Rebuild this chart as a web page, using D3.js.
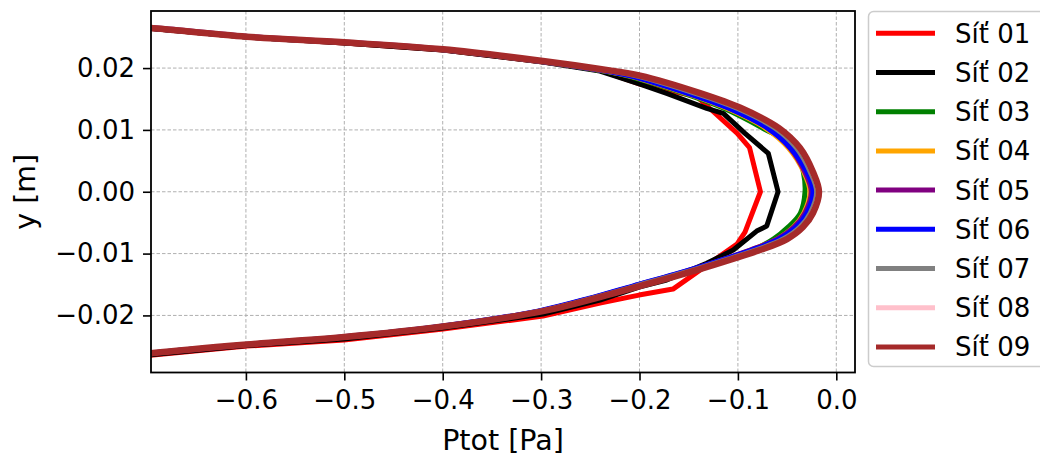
<!DOCTYPE html>
<html>
<head>
<meta charset="utf-8">
<script src="https://cdn.jsdelivr.net/npm/d3@7"></script>
<style>
  html, body { margin: 0; padding: 0; background: #ffffff; }
  svg text { font-family: "DejaVu Sans", sans-serif; fill: #000; }
</style>
</head>
<body>
<svg id="chart" width="1040" height="457"></svg>
<script>
// ---- data: total pressure profiles across the channel for nine meshes ----
const seriesNames = ["Síť 01", "Síť 02", "Síť 03", "Síť 04", "Síť 05", "Síť 06", "Síť 07", "Síť 08", "Síť 09"];
const seriesColors = ["#ff0000", "#000000", "#008000", "#ffa500", "#800080", "#0000ff", "#808080", "#ffc0cb", "#a52a2a"];

// mesh 01 (coarse)
const y01 = [0.0267, 0.02640, 0.02502, 0.02405, 0.02292, 0.02098, 0.01968, 0.01742, 0.01540, 0.00949, 0.00715, 0.0,
             -0.00652, -0.00846, -0.01574, -0.01671, -0.01800, -0.02010, -0.02221, -0.02399, -0.02496, -0.02641, -0.0268];
const p01 = [-0.720, -0.6965, -0.5989, -0.5003, -0.3997, -0.2981, -0.2402, -0.1995, -0.1419, -0.1009, -0.0882, -0.0771,
             -0.0928, -0.1009, -0.1660, -0.2005, -0.2402, -0.2981, -0.3997, -0.5003, -0.5989, -0.6944, -0.720];

// mesh 02
const y02 = [0.0267, 0.02640, 0.02502, 0.02405, 0.02292, 0.02098, 0.01952, 0.01742, 0.01591, 0.01349, 0.01268, 0.00945, 0.00621, 0.0,
             -0.00555, -0.00636, -0.00943, -0.01158, -0.01428, -0.01541, -0.01752, -0.01978, -0.02204, -0.02382, -0.02487, -0.02633, -0.0268];
const p02 = [-0.720, -0.6965, -0.5989, -0.5003, -0.3997, -0.2981, -0.2402, -0.1995, -0.1724, -0.1317, -0.1148, -0.0928, -0.0691, -0.0592,
             -0.0707, -0.0809, -0.1047, -0.1317, -0.1724, -0.2005, -0.2402, -0.2981, -0.3997, -0.5003, -0.5989, -0.6944, -0.720];

// meshes 03-09 share the same sampling positions
const yFine = [0.0267, 0.02648, 0.02507, 0.02416, 0.02303, 0.02114, 0.01985, 0.01879, 0.01596, 0.01354, 0.01030, 0.00707, 0.00319, 0.0,
               -0.00344, -0.00571, -0.00765, -0.00943, -0.01064, -0.01250, -0.01525, -0.01703, -0.01930, -0.02180, -0.02350, -0.02471, -0.02609, -0.0266];
const p03 = [-0.720, -0.6985, -0.6020, -0.5040, -0.4045, -0.3040, -0.2490, -0.2140, -0.1560, -0.1150, -0.0750, -0.0415, -0.0335, -0.0318,
             -0.0365, -0.0490, -0.0640, -0.0850, -0.1060, -0.1425, -0.2030, -0.2435, -0.2995, -0.4000, -0.5000, -0.5990, -0.6940, -0.720];
const p04 = [-0.720, -0.6975, -0.6015, -0.5035, -0.4040, -0.3035, -0.2480, -0.2120, -0.1535, -0.1120, -0.0720, -0.0485, -0.0330, -0.0268,
             -0.0330, -0.0435, -0.0600, -0.0870, -0.1080, -0.1440, -0.2040, -0.2440, -0.3010, -0.4010, -0.5010, -0.5995, -0.6945, -0.720];
const p05 = [-0.720, -0.6900, -0.5930, -0.4960, -0.3985, -0.3005, -0.2460, -0.2095, -0.1505, -0.1090, -0.0695, -0.0470, -0.0320, -0.0255,
             -0.0320, -0.0430, -0.0600, -0.0875, -0.1095, -0.1460, -0.2060, -0.2455, -0.3020, -0.4020, -0.5000, -0.5960, -0.6910, -0.720];
const p06 = [-0.720, -0.6985, -0.6020, -0.5040, -0.4045, -0.3040, -0.2475, -0.2110, -0.1520, -0.1100, -0.0700, -0.0465, -0.0300, -0.0237,
             -0.0300, -0.0410, -0.0580, -0.0860, -0.1090, -0.1465, -0.2070, -0.2465, -0.3035, -0.4040, -0.5035, -0.6010, -0.6955, -0.720];
const p07 = [-0.720, -0.6975, -0.6005, -0.5020, -0.4020, -0.3010, -0.2440, -0.2045, -0.1440, -0.1015, -0.0625, -0.0405, -0.0265, -0.0200,
             -0.0265, -0.0370, -0.0540, -0.0820, -0.1055, -0.1430, -0.2040, -0.2440, -0.3010, -0.4020, -0.5020, -0.6000, -0.6950, -0.720];
const p08 = [-0.720, -0.6965, -0.5990, -0.5000, -0.3995, -0.2985, -0.2405, -0.2000, -0.1390, -0.0973, -0.0588, -0.0374, -0.0242, -0.0181,
             -0.0242, -0.0344, -0.0506, -0.0778, -0.1012, -0.1388, -0.1997, -0.2404, -0.2983, -0.3999, -0.5005, -0.5993, -0.6945, -0.720];
const p09 = [-0.720, -0.6965, -0.5992, -0.5003, -0.3997, -0.2981, -0.2402, -0.1995, -0.1385, -0.0969, -0.0583, -0.0369, -0.0237, -0.0176,
             -0.0237, -0.0339, -0.0501, -0.0775, -0.1009, -0.1385, -0.1995, -0.2402, -0.2981, -0.3997, -0.5003, -0.5992, -0.6944, -0.720];

// axis ticks
const xTicks = [-0.6, -0.5, -0.4, -0.3, -0.2, -0.1, 0.0];
const xTickLabels = ["\u22120.6", "\u22120.5", "\u22120.4", "\u22120.3", "\u22120.2", "\u22120.1", "0.0"];
const yTicks = [0.02, 0.01, 0.0, -0.01, -0.02];
const yTickLabels = ["0.02", "0.01", "0.00", "\u22120.01", "\u22120.02"];
const xDomain = [-0.69645, 0.0190];
const yDomain = [-0.02923, 0.02923];

// ---- assemble series ----
const seriesP = [p01, p02, p03, p04, p05, p06, p07, p08, p09];
const seriesY = [y01, y02, yFine, yFine, yFine, yFine, yFine, yFine, yFine];
const series = seriesNames.map((name, i) => ({
  name,
  color: seriesColors[i],
  fine: i >= 2,
  points: seriesP[i].map((p, k) => [p, seriesY[i][k]])
}));

// ---- layout ----
const plot = { left: 151, right: 855, top: 11, bottom: 372.5 };
const fontSize = 26;
const titleSize = 28.5;

const svg = d3.select("#chart");
const x = d3.scaleLinear().domain(xDomain).range([plot.left, plot.right]);
const y = d3.scaleLinear().domain(yDomain).range([plot.bottom, plot.top]);

svg.append("defs").append("clipPath").attr("id", "plot-clip")
  .append("rect")
  .attr("x", plot.left).attr("y", plot.top)
  .attr("width", plot.right - plot.left).attr("height", plot.bottom - plot.top);

// grid
const grid = svg.append("g").attr("class", "grid");
grid.selectAll("line.gx").data(xTicks).join("line")
  .attr("x1", d => x(d)).attr("x2", d => x(d))
  .attr("y1", plot.top).attr("y2", plot.bottom)
  .attr("stroke", "#b0b0b0").attr("stroke-width", 1).attr("stroke-dasharray", "3.5,2");
grid.selectAll("line.gy").data(yTicks).join("line")
  .attr("x1", plot.left).attr("x2", plot.right)
  .attr("y1", d => y(d)).attr("y2", d => y(d))
  .attr("stroke", "#b0b0b0").attr("stroke-width", 1).attr("stroke-dasharray", "3.5,2");

// profiles: coarse meshes as plain polylines, fine meshes smoothed through their samples
const lineCoarse = d3.line().x(d => x(d[0])).y(d => y(d[1]));
const lineFine = d3.line().x(d => x(d[0])).y(d => y(d[1])).curve(d3.curveCatmullRom.alpha(0.5));
svg.append("g").attr("clip-path", "url(#plot-clip)")
  .selectAll("path").data(series).join("path")
  .attr("d", d => (d.fine ? lineFine : lineCoarse)(d.points))
  .attr("fill", "none")
  .attr("stroke", d => d.color)
  .attr("stroke-width", (d, i) => i === 8 ? 6.5 : 5)
  .attr("stroke-linejoin", "round")
  .attr("stroke-linecap", "butt");

// axes
const xAxis = d3.axisBottom(x).tickValues(xTicks).tickFormat((d, i) => xTickLabels[i])
  .tickSize(8).tickPadding(10);
const yAxis = d3.axisLeft(y).tickValues(yTicks).tickFormat((d, i) => yTickLabels[i])
  .tickSize(8).tickPadding(8);

const gx = svg.append("g").attr("transform", `translate(0,${plot.bottom})`).call(xAxis);
const gy = svg.append("g").attr("transform", `translate(${plot.left},0)`).call(yAxis);
[gx, gy].forEach(g => {
  g.select(".domain").remove();
  g.selectAll(".tick line").attr("stroke", "#000").attr("stroke-width", 1.6);
  g.selectAll(".tick text").attr("font-size", fontSize).attr("font-family", "DejaVu Sans, sans-serif");
});

// frame
svg.append("rect")
  .attr("x", plot.left).attr("y", plot.top)
  .attr("width", plot.right - plot.left).attr("height", plot.bottom - plot.top)
  .attr("fill", "none").attr("stroke", "#000").attr("stroke-width", 1.8);

// axis titles
svg.append("text")
  .attr("x", (plot.left + plot.right) / 2).attr("y", 450)
  .attr("text-anchor", "middle").attr("font-size", titleSize)
  .text("Ptot [Pa]");
svg.append("text")
  .attr("transform", `translate(34.5,${y(0)}) rotate(-90)`)
  .attr("text-anchor", "middle").attr("font-size", titleSize)
  .text("y [m]");

// legend
const legend = svg.append("g");
legend.append("rect")
  .attr("x", 868.5).attr("y", 11.5).attr("width", 200).attr("height", 355)
  .attr("rx", 5).attr("ry", 5)
  .attr("fill", "#ffffff").attr("fill-opacity", 0.8)
  .attr("stroke", "#cccccc").attr("stroke-width", 1.5);
const entries = legend.selectAll("g.entry").data(series).join("g")
  .attr("transform", (d, i) => `translate(0,${33.3 + 39.2 * i})`);
entries.append("line")
  .attr("x1", 876).attr("x2", 935).attr("y1", 0).attr("y2", 0)
  .attr("stroke", d => d.color).attr("stroke-width", 5);
entries.append("text")
  .attr("x", 955).attr("y", 9.4)
  .attr("font-size", fontSize)
  .text(d => d.name);
</script>
</body>
</html>
